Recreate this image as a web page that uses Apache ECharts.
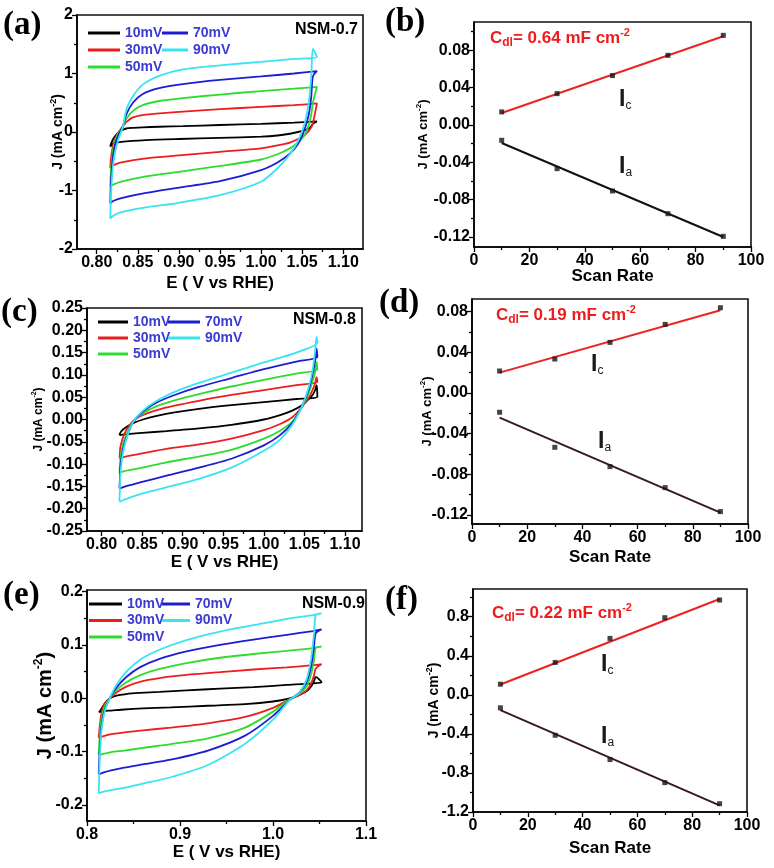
<!DOCTYPE html>
<html><head><meta charset="utf-8">
<script src="https://cdn.jsdelivr.net/npm/echarts@6/dist/echarts.min.js"></script>
<style>html,body{margin:0;padding:0;background:#fff}#c{width:774px;height:868px}</style>
</head><body><div id="c"></div>
<script>
// ================= DATA =================
const scanLabels = ['10mV', '30mV', '50mV', '70mV', '90mV'];
const cvColors = ['#000000', '#ee1d1d', '#2edc2e', '#1c1cd2', '#38e4f2'];

// ---- (a) NSM-0.7 : CV curves, E (V vs RHE) / J (mA cm-2) ----
const aUpE = [0.8165, 0.817, 0.818, 0.82, 0.823, 0.827, 0.832, 0.836, 0.844, 0.856, 0.876, 0.905, 0.95, 1.0, 1.04, 1.068];
const a10Up = [-0.25, -0.22, -0.18, -0.12, -0.06, 0.0, 0.04, 0.06, 0.07, 0.08, 0.09, 0.1, 0.12, 0.14, 0.16, 0.18];
const a30Up = [-0.62, -0.5, -0.38, -0.22, -0.1, 0.0, 0.1, 0.17, 0.25, 0.29, 0.32, 0.35, 0.39, 0.43, 0.46, 0.49];
const a50Up = [-0.93, -0.75, -0.55, -0.3, -0.12, 0.0, 0.1, 0.22, 0.36, 0.46, 0.53, 0.58, 0.64, 0.7, 0.74, 0.77];
const a70Up = [-1.22, -0.95, -0.7, -0.4, -0.18, -0.03, 0.1, 0.3, 0.5, 0.65, 0.75, 0.82, 0.89, 0.95, 1.0, 1.04];
const a90Up = [-1.48, -1.2, -0.9, -0.55, -0.3, -0.1, 0.1, 0.38, 0.61, 0.81, 0.96, 1.07, 1.14, 1.2, 1.25, 1.28];
const aDnE = [1.063, 1.061, 1.058, 1.053, 1.045, 1.035, 1.02, 1.0, 0.95, 0.9, 0.86, 0.83, 0.82, 0.8165];
const a10Dn = [0.14, 0.1, 0.06, 0.03, 0.0, -0.03, -0.06, -0.08, -0.1, -0.12, -0.14, -0.17, -0.2, -0.25];
const a30Dn = [0.15, 0.08, 0.02, -0.05, -0.12, -0.18, -0.23, -0.28, -0.34, -0.4, -0.45, -0.52, -0.57, -0.62];
const a50Dn = [0.5, 0.3, 0.12, -0.05, -0.18, -0.28, -0.38, -0.47, -0.58, -0.68, -0.76, -0.85, -0.9, -0.93];
const a70Dn = [0.95, 0.6, 0.3, 0.05, -0.2, -0.37, -0.52, -0.65, -0.84, -0.95, -1.04, -1.13, -1.18, -1.22];
const a90Dn = [1.42, 0.95, 0.5, 0.15, -0.15, -0.38, -0.62, -0.85, -1.08, -1.21, -1.29, -1.37, -1.43, -1.48];

// ---- (c) NSM-0.8 ----
const cUpE = [0.822, 0.8225, 0.823, 0.825, 0.828, 0.833, 0.839, 0.851, 0.868, 0.89, 0.92, 0.96, 1.0, 1.04, 1.066];
const c10Up = [-0.035, -0.032, -0.03, -0.025, -0.02, -0.014, -0.008, 0.0, 0.008, 0.016, 0.024, 0.032, 0.039, 0.046, 0.051];
const c30Up = [-0.087, -0.075, -0.063, -0.048, -0.032, -0.017, -0.003, 0.01, 0.021, 0.031, 0.042, 0.055, 0.066, 0.077, 0.084];
const c50Up = [-0.12, -0.105, -0.09, -0.065, -0.045, -0.025, -0.005, 0.014, 0.03, 0.043, 0.057, 0.074, 0.089, 0.103, 0.112];
const c70Up = [-0.155, -0.135, -0.11, -0.08, -0.055, -0.03, -0.005, 0.018, 0.038, 0.055, 0.073, 0.093, 0.113, 0.13, 0.14];
const c90Up = [-0.183, -0.16, -0.13, -0.09, -0.06, -0.03, -0.005, 0.02, 0.042, 0.062, 0.082, 0.105, 0.128, 0.15, 0.172];
const cDnE = [1.065, 1.063, 1.06, 1.055, 1.047, 1.035, 1.02, 1.0, 0.96, 0.92, 0.88, 0.85, 0.835, 0.826, 0.822];
const c10Dn = [0.077, 0.065, 0.055, 0.045, 0.032, 0.02, 0.01, 0.0, -0.012, -0.02, -0.026, -0.03, -0.032, -0.034, -0.035];
const c30Dn = [0.095, 0.08, 0.066, 0.048, 0.028, 0.005, -0.01, -0.024, -0.043, -0.056, -0.066, -0.076, -0.081, -0.085, -0.087];
const c50Dn = [0.129, 0.105, 0.085, 0.058, 0.028, -0.005, -0.025, -0.043, -0.068, -0.083, -0.096, -0.108, -0.113, -0.117, -0.12];
const c70Dn = [0.159, 0.13, 0.1, 0.065, 0.03, -0.008, -0.035, -0.058, -0.088, -0.108, -0.126, -0.14, -0.147, -0.152, -0.155];
const c90Dn = [0.185, 0.15, 0.11, 0.07, 0.03, -0.012, -0.045, -0.07, -0.108, -0.133, -0.152, -0.166, -0.175, -0.181, -0.185];

// ---- (e) NSM-0.9 ----
const eUpE = [0.8126, 0.8136, 0.8154, 0.819, 0.8244, 0.8316, 0.8423, 0.8567, 0.878, 0.907, 0.943, 0.979, 1.015, 1.043, 1.0522];
const e10Up = [-0.026, -0.025, -0.02, -0.01, 0.0, 0.005, 0.008, 0.01, 0.012, 0.015, 0.018, 0.021, 0.025, 0.028, 0.03];
const e30Up = [-0.074, -0.055, -0.03, -0.01, 0.0, 0.011, 0.022, 0.031, 0.038, 0.044, 0.049, 0.054, 0.058, 0.062, 0.064];
const e50Up = [-0.106, -0.075, -0.04, -0.015, 0.0, 0.015, 0.03, 0.043, 0.055, 0.066, 0.076, 0.083, 0.089, 0.094, 0.097];
const e70Up = [-0.1425, -0.1, -0.055, -0.022, 0.0, 0.02, 0.04, 0.058, 0.074, 0.088, 0.1, 0.11, 0.119, 0.126, 0.129];
const e90Up = [-0.178, -0.119, -0.062, -0.025, 0.0, 0.025, 0.05, 0.072, 0.091, 0.109, 0.125, 0.137, 0.149, 0.156, 0.159];
const eDnE = [1.046, 1.044, 1.041, 1.036, 1.028, 1.018, 1.0, 0.97, 0.93, 0.89, 0.86, 0.84, 0.826, 0.818, 0.8126];
const e10Dn = [0.04, 0.032, 0.022, 0.013, 0.006, 0.0, -0.006, -0.011, -0.014, -0.017, -0.019, -0.021, -0.023, -0.024, -0.026];
const e30Dn = [0.056, 0.042, 0.028, 0.015, 0.006, -0.002, -0.018, -0.035, -0.047, -0.055, -0.06, -0.064, -0.067, -0.071, -0.074];
const e50Dn = [0.095, 0.07, 0.045, 0.022, 0.008, -0.002, -0.025, -0.055, -0.075, -0.086, -0.093, -0.098, -0.101, -0.104, -0.106];
const e70Dn = [0.122, 0.095, 0.06, 0.03, 0.01, -0.003, -0.033, -0.07, -0.098, -0.115, -0.124, -0.13, -0.135, -0.139, -0.1425];
const e90Dn = [0.156, 0.12, 0.075, 0.035, 0.01, -0.003, -0.04, -0.085, -0.125, -0.148, -0.16, -0.168, -0.172, -0.175, -0.178];

// ---- scan-rate plots ----
const scanRate = [10, 30, 50, 70, 90];
const fitX = [10, 90];
const bIc = [0.014, 0.0336, 0.0529, 0.0746, 0.096];
const bIa = [-0.0164, -0.0468, -0.0707, -0.095, -0.1193];
const bIcFit = [0.0129, 0.095];
const bIaFit = [-0.0193, -0.12];
const dIc = [0.0216, 0.0334, 0.0498, 0.0675, 0.0839];
const dIa = [-0.019, -0.0535, -0.0725, -0.0932, -0.1168];
const dIcFit = [0.020, 0.0815];
const dIaFit = [-0.0243, -0.1178];
const fIc = [0.109, 0.332, 0.578, 0.79, 0.971];
const fIa = [-0.133, -0.414, -0.663, -0.899, -1.115];
const fIcFit = [0.106, 0.981];
const fIaFit = [-0.157, -1.132];

// ---- tick values ----
const cvXTicks = [0.80, 0.85, 0.90, 0.95, 1.00, 1.05, 1.10];
const cvXMinor = [0.825, 0.875, 0.925, 0.975, 1.025, 1.075];
const aYTicks = [-2, -1, 0, 1, 2];
const aYMinor = [-1.5, -0.5, 0.5, 1.5];
const cYTicks = [-0.25, -0.2, -0.15, -0.1, -0.05, 0, 0.05, 0.1, 0.15, 0.2, 0.25];
const cYMinor = [-0.225, -0.175, -0.125, -0.075, -0.025, 0.025, 0.075, 0.125, 0.175, 0.225];
const eXTicks = [0.8, 0.9, 1.0, 1.1];
const eXMinor = [0.85, 0.95, 1.05];
const eYTicks = [-0.2, -0.1, 0, 0.1, 0.2];
const eYMinor = [-0.15, -0.05, 0.05, 0.15];
const srXTicks = [0, 20, 40, 60, 80, 100];
const srXMinor = [10, 30, 50, 70, 90];
const bYTicks = [-0.12, -0.08, -0.04, 0, 0.04, 0.08];
const bYMinor = [-0.1, -0.06, -0.02, 0.02, 0.06, 0.1];
const dYMinor = [-0.1, -0.06, -0.02, 0.02, 0.06];
const fYTicks = [-1.2, -0.8, -0.4, 0, 0.4, 0.8];
const fYMinor = [-1.0, -0.6, -0.2, 0.2, 0.6, 1.0];

// ================= BUILD =================
const FONT = '"Liberation Sans", Arial, sans-serif';
const grids = [], xAxes = [], yAxes = [], series = [], legends = [], graphics = [];
const pts = (X, Y) => X.map((x, i) => [x, Y[i]]);

function panel(cfg) {
  const gi = grids.length;
  grids.push({left: cfg.box[0], top: cfg.box[1], width: cfg.box[2], height: cfg.box[3],
    show: true, borderColor: '#111', borderWidth: 1.6, backgroundColor: 'transparent'});
  const tickLine = {color: '#000', width: 1.3};
  const lab = {color: '#000', fontSize: 16, fontWeight: 'bold', fontFamily: FONT};
  const xi = xAxes.length;
  xAxes.push({type: 'value', gridIndex: gi, min: cfg.xr[0], max: cfg.xr[1], position: 'bottom',
    axisLine: {show: true, onZero: false, lineStyle: {color: '#000', width: 1.6}},
    axisTick: {show: true, customValues: cfg.xt, length: 5, lineStyle: tickLine},
    axisLabel: Object.assign({show: true, customValues: cfg.xt, formatter: v => v.toFixed(cfg.xd), margin: 6}, lab),
    splitLine: {show: false},
    name: cfg.xname, nameLocation: 'middle', nameGap: cfg.xGap, nameMoveOverlap: false,
    nameTextStyle: {color: '#000', fontSize: 17, fontWeight: 'bold', fontFamily: FONT}});
  xAxes.push({type: 'value', gridIndex: gi, min: cfg.xr[0], max: cfg.xr[1], position: 'bottom',
    axisLine: {show: false, onZero: false}, axisTick: {show: true, customValues: cfg.xm, length: 3, lineStyle: tickLine},
    axisLabel: {show: false}, splitLine: {show: false}});
  const yi = yAxes.length;
  yAxes.push({type: 'value', gridIndex: gi, min: cfg.yr[0], max: cfg.yr[1], position: 'left',
    axisLine: {show: true, onZero: false, lineStyle: {color: '#000', width: 1.6}},
    axisTick: {show: true, customValues: cfg.yt, length: 5, lineStyle: tickLine},
    axisLabel: Object.assign({show: true, customValues: cfg.yt, formatter: v => v.toFixed(cfg.yd), margin: 4}, lab),
    splitLine: {show: false},
    name: 'J (mA cm{sup|-2})', nameLocation: 'middle', nameGap: cfg.yGap, nameMoveOverlap: false,
    nameTextStyle: {color: '#000', fontSize: cfg.yns, fontWeight: 'bold', fontFamily: FONT, lineHeight: cfg.yns + 4,
      rich: {sup: {fontSize: Math.round(cfg.yns * 0.62), fontWeight: 'bold', fontFamily: FONT, color: '#000', verticalAlign: 'top', lineHeight: cfg.yns + 4}}}});
  yAxes.push({type: 'value', gridIndex: gi, min: cfg.yr[0], max: cfg.yr[1], position: 'left',
    axisLine: {show: false, onZero: false}, axisTick: {show: true, customValues: cfg.ym, length: 3, lineStyle: tickLine},
    axisLabel: {show: false}, splitLine: {show: false}});
  return {xi, yi};
}

function cvPanel(cfg, upE, ups, dnE, dns) {
  const ax = panel(cfg);
  ups.forEach((up, k) => {
    series.push({type: 'line', name: scanLabels[k], xAxisIndex: ax.xi, yAxisIndex: ax.yi,
      data: pts(upE, up).concat(pts(dnE, dns[k])), showSymbol: false, symbol: 'none', smooth: 0.25,
      color: cvColors[k], lineStyle: {width: 1.8, color: cvColors[k]}, itemStyle: {color: cvColors[k]}, z: 2 + k});
  });
  const lg = cfg.legend;
  const ts = {color: '#3b3bd4', fontSize: 14, fontWeight: 'bold', fontFamily: FONT, lineHeight: 14};
  legends.push({data: scanLabels.slice(0, 3), orient: 'vertical', left: lg[0], top: lg[1], itemWidth: lg[2], itemHeight: 3,
    itemGap: lg[5], icon: 'rect', padding: 0, selectedMode: false, textStyle: ts});
  legends.push({data: scanLabels.slice(3), orient: 'vertical', left: lg[3], top: lg[1], itemWidth: lg[4], itemHeight: 3,
    itemGap: lg[5], icon: 'rect', padding: 0, selectedMode: false, textStyle: ts});
  graphics.push({type: 'text', x: cfg.tag[0], y: cfg.tag[1],
    style: {text: cfg.tag[2], textAlign: 'right', align: 'right', textVerticalAlign: 'middle', verticalAlign: 'middle',
      font: 'bold 16px ' + FONT, fill: '#000'}});
}

function srPanel(cfg, ic, ia, icFit, iaFit, lowColor) {
  const ax = panel(cfg);
  series.push({type: 'line', name: 'Ic fit', xAxisIndex: ax.xi, yAxisIndex: ax.yi, data: pts(fitX, icFit),
    symbol: 'none', lineStyle: {color: '#ee2222', width: 2}, z: 2});
  series.push({type: 'line', name: 'Ia fit', xAxisIndex: ax.xi, yAxisIndex: ax.yi, data: pts(fitX, iaFit),
    symbol: 'none', lineStyle: {color: lowColor, width: 2}, z: 2});
  series.push({type: 'scatter', name: 'Ic', xAxisIndex: ax.xi, yAxisIndex: ax.yi, data: pts(scanRate, ic),
    symbol: 'rect', symbolSize: 5, itemStyle: {color: '#151515'}, z: 5});
  series.push({type: 'scatter', name: 'Ia', xAxisIndex: ax.xi, yAxisIndex: ax.yi, data: pts(scanRate, ia),
    symbol: 'rect', symbolSize: 5, itemStyle: {color: '#151515'}, z: 5});
  graphics.push({type: 'text', left: cfg.cdl[0], top: cfg.cdl[1], style: {
    text: '{c|C}{s|dl}{c|= ' + cfg.cdl[2] + ' mF cm}{p|-2}',
    rich: {
      c: {fontSize: 17, fontWeight: 'bold', fontFamily: FONT, fill: '#ee1d1d', lineHeight: 22, verticalAlign: 'middle'},
      s: {fontSize: 12, fontWeight: 'bold', fontFamily: FONT, fill: '#ee1d1d', lineHeight: 14, verticalAlign: 'bottom'},
      p: {fontSize: 11, fontWeight: 'bold', fontFamily: FONT, fill: '#ee1d1d', lineHeight: 14, verticalAlign: 'top'}
    }}});
  const lbl = (x, y, sub) => graphics.push({type: 'text', left: x, top: y, style: {
    text: '{i|I}{s|' + sub + '}',
    rich: {
      i: {fontSize: 23, fontWeight: 'bold', fontFamily: FONT, fill: '#1a1a1a', lineHeight: 24, verticalAlign: 'middle'},
      s: {fontSize: 12, fontFamily: FONT, fill: '#1a1a1a', lineHeight: 12, verticalAlign: 'bottom'}
    }}});
  lbl(cfg.ic[0], cfg.ic[1], 'c');
  lbl(cfg.ia[0], cfg.ia[1], 'a');
}

// (a)
cvPanel({box: [77, 15, 286, 234], xr: [0.776, 1.124], yr: [-2, 2], xt: cvXTicks, xm: cvXMinor, xd: 2,
  yt: aYTicks, ym: aYMinor, yd: 0, xname: 'E ( V vs RHE)', xGap: 26, yGap: 10, yns: 14,
  legend: [88, 26, 32, 162, 26, 3], tag: [358, 30, 'NSM-0.7']},
  aUpE, [a10Up, a30Up, a50Up, a70Up, a90Up], aDnE, [a10Dn, a30Dn, a50Dn, a70Dn, a90Dn]);
// (b)
srPanel({box: [474, 22, 277, 225], xr: [0, 100], yr: [-0.1307, 0.1103], xt: srXTicks, xm: srXMinor, xd: 0,
  yt: bYTicks, ym: bYMinor, yd: 2, xname: 'Scan Rate', xGap: 21, yGap: 42, yns: 13,
  cdl: [490, 27, '0.64'], ic: [619, 88], ia: [619, 155]}, bIc, bIa, bIcFit, bIaFit, '#111111');
// (c)
cvPanel({box: [87, 308, 275, 223], xr: [0.782, 1.121], yr: [-0.25, 0.25], xt: cvXTicks, xm: cvXMinor, xd: 2,
  yt: cYTicks, ym: cYMinor, yd: 2, xname: 'E ( V vs RHE)', xGap: 23, yGap: 40, yns: 12,
  legend: [98, 315, 30, 168, 32, 2], tag: [356, 320, 'NSM-0.8']},
  cUpE, [c10Up, c30Up, c50Up, c70Up, c90Up], cDnE, [c10Dn, c30Dn, c50Dn, c70Dn, c90Dn]);
// (d)
srPanel({box: [472, 299, 276, 225], xr: [0, 100], yr: [-0.129, 0.0925], xt: srXTicks, xm: srXMinor, xd: 0,
  yt: bYTicks, ym: dYMinor, yd: 2, xname: 'Scan Rate', xGap: 25, yGap: 36, yns: 13,
  cdl: [496, 304, '0.19'], ic: [591, 353], ia: [598, 430]}, dIc, dIa, dIcFit, dIaFit, '#3a1a1a');
// (e)
cvPanel({box: [87, 590, 279, 231], xr: [0.8, 1.1], yr: [-0.23, 0.203], xt: eXTicks, xm: eXMinor, xd: 1,
  yt: eYTicks, ym: eYMinor, yd: 1, xname: 'E ( V vs RHE)', xGap: 23, yGap: 30, yns: 20,
  legend: [89, 597, 33, 162, 28, 2.5], tag: [365, 604, 'NSM-0.9']},
  eUpE, [e10Up, e30Up, e50Up, e70Up, e90Up], eDnE, [e10Dn, e30Dn, e50Dn, e70Dn, e90Dn]);
// (f)
srPanel({box: [473, 589, 274, 223], xr: [0, 100], yr: [-1.2, 1.084], xt: srXTicks, xm: srXMinor, xd: 0,
  yt: fYTicks, ym: fYMinor, yd: 1, xname: 'Scan Rate', xGap: 28, yGap: 30, yns: 14,
  cdl: [492, 602, '0.22'], ic: [601, 653], ia: [601, 725]}, fIc, fIa, fIcFit, fIaFit, '#3a1a1a');

// panel letters
[['(a)', 3, 9], ['(b)', 385, 6], ['(c)', 1, 296], ['(d)', 379, 287], ['(e)', 3, 579], ['(f)', 385, 584]].forEach(p => {
  graphics.push({type: 'text', left: p[1], top: p[2], style: {text: p[0], font: 'bold 33px "Liberation Serif", "Times New Roman", serif', fill: '#000'}});
});

const chart = echarts.init(document.getElementById('c'));
chart.setOption({
  animation: false,
  backgroundColor: '#ffffff',
  grid: grids, xAxis: xAxes, yAxis: yAxes, series: series, legend: legends, graphic: graphics
});
</script></body></html>
